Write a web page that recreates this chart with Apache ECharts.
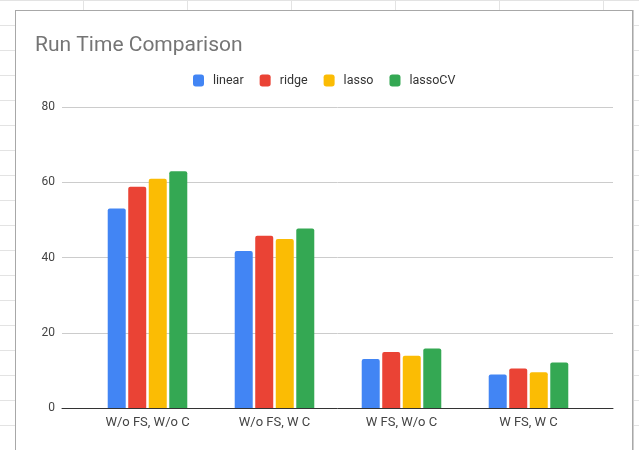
<!DOCTYPE html>
<html>
<head>
<meta charset="utf-8">
<script src="https://cdn.jsdelivr.net/npm/echarts@6/dist/echarts.min.js"></script>
<style>
  html, body { margin: 0; padding: 0; }
  body {
    width: 639px; height: 450px; overflow: hidden; position: relative;
    background-color: #fff;
    background-image:
      linear-gradient(to right, #e3e3e3 1px, transparent 1px),
      linear-gradient(to bottom, #e3e3e3 1px, transparent 1px);
    background-size: 104px 100%, 100% 25px;
    background-position: 83px 0, 0 0;
  }
  #card {
    position: absolute; left: 15px; top: 10px; width: 616px; height: 460px;
    background: #fff; border: 1px solid #a8a8a8;
    box-shadow: 1px 0 0 #cfcfcf;
  }
  #chart { position: absolute; left: 0; top: 0; width: 639px; height: 450px; }
</style>
</head>
<body>
<div id="card"></div>
<div id="chart"></div>
<script>
// Run times (seconds) per model for each preprocessing setup
const categories = ['W/o FS, W/o C', 'W/o FS, W C', 'W FS, W/o C', 'W FS, W C'];
const seriesNames = ['linear', 'ridge', 'lasso', 'lassoCV'];
const linear  = [53, 41.7, 13, 8.9];
const ridge   = [58.8, 45.8, 14.9, 10.5];
const lasso   = [60.9, 44.9, 13.9, 9.5];
const lassoCV = [62.9, 47.7, 15.8, 12.1];
const yTicks = { min: 0, max: 80, interval: 20 };

const colors = ['#4285F4', '#EA4335', '#FBBC04', '#34A853'];
const values = [linear, ridge, lasso, lassoCV];
const FONT = 'Roboto, "Liberation Sans", sans-serif';

const chart = echarts.init(document.getElementById('chart'), null, { renderer: 'canvas' });

chart.setOption({
  animation: false,
  color: colors,
  title: {
    text: 'Run Time Comparison',
    left: 35, top: 35, padding: 0,
    textStyle: { fontFamily: FONT, fontSize: 21, fontWeight: 'normal', color: '#757575' }
  },
  legend: {
    data: seriesNames,
    left: 193, top: 74, padding: 0,
    itemWidth: 11, itemHeight: 12, itemGap: 16,
    icon: 'roundRect',
    textStyle: { fontFamily: FONT, fontSize: 12.5, color: '#333', padding: [0, 0, 0, 4] }
  },
  grid: [
    // full-width frame carrying the value gridlines and baseline
    { left: 62, right: 26, top: 107, bottom: 42 },
    // inset band where the bar groups sit
    { left: 84, right: 47, top: 107, bottom: 42 }
  ],
  xAxis: [
    {
      gridIndex: 0, type: 'category', data: categories,
      axisLine: { show: true, lineStyle: { color: '#333', width: 1 } },
      axisTick: { show: false }, axisLabel: { show: false }
    },
    {
      gridIndex: 1, type: 'category', data: categories,
      axisLine: { show: false }, axisTick: { show: false },
      axisLabel: { fontFamily: FONT, fontSize: 13, color: '#444', margin: 8 }
    }
  ],
  yAxis: [
    {
      gridIndex: 0, type: 'value', min: yTicks.min, max: yTicks.max, interval: yTicks.interval,
      axisLine: { show: false }, axisTick: { show: false },
      axisLabel: { fontFamily: FONT, fontSize: 12, color: '#444', margin: 7 },
      splitLine: { lineStyle: { color: '#cccccc', width: 1 } }
    },
    {
      gridIndex: 1, type: 'value', min: yTicks.min, max: yTicks.max, interval: yTicks.interval,
      show: false, splitLine: { show: false }
    }
  ],
  series: seriesNames.map((name, i) => ({
    name: name,
    type: 'bar',
    xAxisIndex: 1, yAxisIndex: 1,
    data: values[i],
    barWidth: 18,
    barGap: '14%',
    itemStyle: { color: colors[i], borderRadius: [2, 2, 0, 0] }
  }))
});
</script>
</body>
</html>
